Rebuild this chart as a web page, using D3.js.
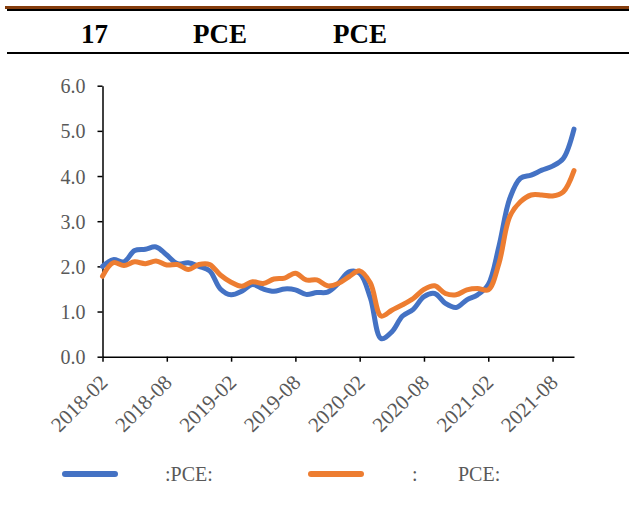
<!DOCTYPE html>
<html>
<head>
<meta charset="utf-8">
<script src="https://cdn.jsdelivr.net/npm/d3@7"></script>
<style>
  body { margin: 0; background: #fff; }
  svg { display: block; }
</style>
</head>
<body>
<svg id="chart" width="629" height="510"></svg>
<script>
// months on the category axis
const months = [
  "2018-02","2018-03","2018-04","2018-05","2018-06","2018-07","2018-08","2018-09","2018-10","2018-11","2018-12",
  "2019-01","2019-02","2019-03","2019-04","2019-05","2019-06","2019-07","2019-08","2019-09","2019-10","2019-11","2019-12",
  "2020-01","2020-02","2020-03","2020-04","2020-05","2020-06","2020-07","2020-08","2020-09","2020-10","2020-11","2020-12",
  "2021-01","2021-02","2021-03","2021-04","2021-05","2021-06","2021-07","2021-08","2021-09","2021-10"
];

// blue series
const pce = [
  2.0, 2.15, 2.1, 2.35, 2.38, 2.43, 2.25, 2.06, 2.08, 2.0, 1.9,
  1.5, 1.37, 1.45, 1.6, 1.5, 1.45, 1.5, 1.48, 1.38, 1.42, 1.43, 1.62,
  1.88, 1.85, 1.3, 0.4, 0.55, 0.9, 1.05, 1.33, 1.4, 1.18, 1.09, 1.26,
  1.37, 1.6, 2.45, 3.5, 3.95, 4.02, 4.13, 4.22, 4.39, 5.04
];

// orange series
const corePce = [
  1.78, 2.08, 2.02, 2.1, 2.06, 2.12, 2.03, 2.04, 1.93, 2.04, 2.04,
  1.81, 1.65, 1.56, 1.66, 1.62, 1.72, 1.74, 1.85, 1.7, 1.7, 1.57, 1.62,
  1.77, 1.9, 1.63, 0.9, 1.03, 1.15, 1.29, 1.49, 1.57, 1.4, 1.37, 1.48,
  1.51, 1.48, 2.07, 3.1, 3.43, 3.58, 3.58, 3.56, 3.65, 4.12
];

const yTicks = [0, 1, 2, 3, 4, 5, 6];
const xTickLabels = ["2018-02","2018-08","2019-02","2019-08","2020-02","2020-08","2021-02","2021-08"];

// title pieces (CJK glyphs missing in the source, only these survive)
const titleParts = [
  { text: "17", x: 81 },
  { text: "PCE", x: 193 },
  { text: "PCE", x: 333 }
];
const legendItems = [
  { color: "#4472C4", x: 62, labels: [{ text: ":PCE:", dx: 103 }] },
  { color: "#ED7D31", x: 308, labels: [{ text: ":", dx: 104 }, { text: "PCE:", dx: 150 }] }
];

const FONT = '"Liberation Serif"';
const svg = d3.select("#chart");

// header rules
svg.append("rect").attr("x", 5).attr("y", 6).attr("width", 624).attr("height", 3).attr("fill", "#843C0C");
svg.append("rect").attr("x", 7).attr("y", 9).attr("width", 622).attr("height", 2).attr("fill", "#000");
svg.append("rect").attr("x", 7).attr("y", 52).attr("width", 622).attr("height", 2).attr("fill", "#000");

svg.selectAll("text.title")
  .data(titleParts)
  .join("text")
  .attr("class", "title")
  .attr("x", d => d.x)
  .attr("y", 43)
  .style("font-family", FONT)
  .style("font-weight", "bold")
  .style("font-size", "27px")
  .attr("fill", "#000")
  .text(d => d.text);

// scales
const x = d3.scalePoint().domain(months).range([102.5, 574]);
const y = d3.scaleLinear().domain([0, 6]).range([356.7, 85.7]);

// y axis
const yAxis = svg.append("g")
  .attr("transform", "translate(102.5,0)")
  .call(d3.axisLeft(y).tickValues(yTicks).tickFormat(d3.format(".1f")).tickSize(5).tickSizeOuter(0));
yAxis.select(".domain").attr("stroke", "#000").attr("stroke-width", 1.5);
yAxis.selectAll(".tick line").attr("stroke", "#000").attr("stroke-width", 1.5);
yAxis.selectAll(".tick text")
  .attr("x", -17)
  .attr("dy", "0.35em")
  .style("font-family", FONT)
  .style("font-size", "20px")
  .attr("fill", "#595959");

// x axis
const xAxis = svg.append("g")
  .attr("transform", "translate(0,356.7)")
  .call(d3.axisBottom(x).tickValues(xTickLabels).tickSize(5).tickSizeOuter(0));
xAxis.select(".domain").attr("stroke", "#000").attr("stroke-width", 1.5);
xAxis.selectAll(".tick line").attr("stroke", "#000").attr("stroke-width", 1.5);
xAxis.selectAll(".tick text")
  .style("font-family", FONT)
  .style("font-size", "21px")
  .attr("fill", "#595959")
  .attr("text-anchor", "end")
  .attr("dy", null)
  .attr("y", 0)
  .attr("transform", "translate(6,27) rotate(-45)");

// lines
const line = d3.line()
  .x((d, i) => x(months[i]))
  .y(d => y(d))
  .curve(d3.curveCatmullRom.alpha(0.5));

svg.append("path")
  .attr("d", line(pce))
  .attr("fill", "none")
  .attr("stroke", "#4472C4")
  .attr("stroke-width", 5)
  .attr("stroke-linecap", "round")
  .attr("stroke-linejoin", "round");

svg.append("path")
  .attr("d", line(corePce))
  .attr("fill", "none")
  .attr("stroke", "#ED7D31")
  .attr("stroke-width", 5)
  .attr("stroke-linecap", "round")
  .attr("stroke-linejoin", "round");

// legend
const legend = svg.append("g");
legendItems.forEach(item => {
  legend.append("line")
    .attr("x1", item.x + 3).attr("x2", item.x + 53)
    .attr("y1", 474).attr("y2", 474)
    .attr("stroke", item.color)
    .attr("stroke-width", 6)
    .attr("stroke-linecap", "round");
  item.labels.forEach(l => {
    legend.append("text")
      .attr("x", item.x + l.dx)
      .attr("y", 481)
      .style("font-family", FONT)
      .style("font-size", "20px")
      .attr("fill", "#595959")
      .text(l.text);
  });
});
</script>
</body>
</html>
